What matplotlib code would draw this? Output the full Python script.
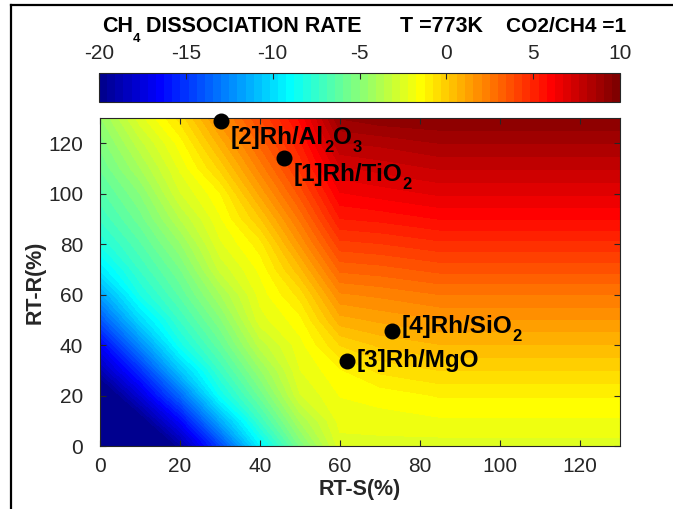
import re
import matplotlib
matplotlib.use("Agg")
import matplotlib.pyplot as plt
import numpy as np
from matplotlib.colors import ListedColormap, Normalize
from matplotlib.lines import Line2D
from matplotlib.transforms import offset_copy

plt.rcParams['font.family'] = ['Liberation Sans', 'DejaVu Sans']
plt.rcParams['axes.unicode_minus'] = False

# CH4 dissociation rate on an RT-S / RT-R grid
rt_s = [0, 10, 20, 30, 40, 50, 60, 70, 85, 130]
rt_r = [0, 10, 20, 30, 40, 50, 60, 70, 80, 90, 100, 110, 120, 130]
rate = [
    [-27.0, -23.3, -19.2, -14.6, -9.3, -5.4, -2.4, -2.4, -2.4, -2.4],
    [-24.1, -20.3, -16.5, -11.5, -7.3, -4.0, -2.0, -1.9, -1.8, -1.8],
    [-21.3, -17.7, -13.5, -8.7, -5.8, -2.7, -1.7, -1.55, -1.2, -1.2],
    [-18.8, -15.2, -10.7, -7.3, -4.6, -2.2, -1.3, -0.65, -0.3, -0.3],
    [-16.7, -12.5, -8.5, -6.1, -3.4, -1.9, -0.3, 0.25, 0.6, 0.6],
    [-14.1, -10.1, -7.3, -5.1, -2.4, -1.4, 0.9, 1.2, 1.55, 1.55],
    [-11.8, -8.3, -6.3, -4.1, -2.0, -0.6, 1.95, 2.15, 2.5, 2.5],
    [-9.6, -7.3, -5.5, -3.0, -1.6, 0.5, 3.1, 3.25, 3.6, 3.6],
    [-8.2, -6.5, -4.6, -2.3, -1.0, 1.6, 4.2, 4.35, 4.7, 4.7],
    [-7.3, -5.7, -3.6, -1.8, 0.1, 2.6, 5.3, 5.45, 5.8, 5.8],
    [-6.6, -5.0, -2.7, -1.3, 1.2, 3.6, 6.2, 6.45, 6.8, 6.8],
    [-5.9, -4.1, -2.1, -0.2, 2.2, 4.5, 7.1, 7.35, 7.7, 7.7],
    [-5.3, -3.3, -1.5, 0.8, 3.1, 5.2, 8.1, 8.25, 8.6, 8.6],
    [-4.6, -2.4, -0.6, 1.8, 3.9, 5.9, 9.1, 9.4, 9.5, 9.5],
]

# catalysts ("_n" marks a subscript digit)
catalysts = ['[2]Rh/Al_2O_3', '[1]Rh/TiO_2', '[3]Rh/MgO', '[4]Rh/SiO_2']
cat_s = [30.3, 46.0, 61.8, 72.9]
cat_r = [129.0, 114.0, 33.7, 45.5]
label_offsets = [(7, -17), (7, -16), (7, -4.5), (7, -1.5)]

W, H = 673, 509
gray = '#262626'


def matlab_jet(m=64):
    n = int(np.ceil(m / 4))
    u = np.concatenate([np.arange(1, n + 1) / n, np.ones(n - 1),
                        np.arange(n, 0, -1) / n])
    g = int(np.ceil(n / 2)) - (m % 4 == 1) + np.arange(1, len(u) + 1)
    r = g + n
    b = g - n
    J = np.zeros((m, 3))
    J[r[r <= m] - 1, 0] = u[r <= m]
    J[g[g <= m] - 1, 1] = u[g <= m]
    J[b[b >= 1] - 1, 2] = u[b >= 1]
    return J


fig = plt.figure(figsize=(W / 100, H / 100), dpi=100)
renderer = fig.canvas.get_renderer()


def chem_text(trans, x, y, label, size, sub_scale, sub_drop, dx=0, dy=0,
              color='black'):
    # bold text with lowered, smaller digits after "_"
    pieces = re.split(r'_(\d)', label)
    acc = dx
    for i, piece in enumerate(pieces):
        if not piece:
            continue
        sub = i % 2 == 1
        tr = offset_copy(trans, fig=fig, x=acc,
                         y=dy - (sub_drop if sub else 0), units='points')
        t = fig.text(x, y, piece, transform=tr, ha='left', va='baseline',
                     fontsize=size * sub_scale if sub else size,
                     fontweight='bold', color=color, zorder=6)
        acc += t.get_window_extent(renderer).width * 72 / fig.dpi


ax = fig.add_axes([100 / W, (H - 446) / H, 520 / W, 328 / H])

cmap = ListedColormap(matlab_jet(64))
cmap = cmap.with_extremes(under=cmap(0), over=cmap(63))
levels = np.linspace(-20, 10, 65)
ax.contourf(rt_s, rt_r, rate, levels=levels, cmap=cmap, extend='both',
            antialiased=False)

ax.set_xlim(0, 130)
ax.set_ylim(0, 130)
ax.plot(cat_s, cat_r, 'o', color='black', ms=10.5, clip_on=False, zorder=5)
for name, s, r, (ox, oy) in zip(catalysts, cat_s, cat_r, label_offsets):
    chem_text(ax.transData, s, r, name, 17.5, 0.68, 5.8, dx=ox, dy=oy)

ax.set_xticks(np.arange(0, 121, 20))
ax.set_yticks(np.arange(0, 121, 20))
ax.tick_params(direction='in', length=4.5, width=0.8, colors=gray,
               labelsize=15, top=True, right=True)
ax.tick_params(axis='x', pad=8)
ax.tick_params(axis='y', pad=12)
for sp in ax.spines.values():
    sp.set_color(gray)
    sp.set_linewidth(0.8)
ax.set_xlabel('RT-S(%)', fontsize=15.5, fontweight='bold', color=gray)
ax.set_ylabel('RT-R(%)', fontsize=15.5, fontweight='bold', color=gray)
ax.xaxis.set_label_coords(0.5, -0.10)
ax.yaxis.set_label_coords(-0.105, 0.5)

# horizontal colour bar on top
cax = fig.add_axes([99 / W, (H - 102) / H, 521 / W, 29 / H])
sm = plt.cm.ScalarMappable(norm=Normalize(-20, 10), cmap=cmap)
cb = fig.colorbar(sm, cax=cax, orientation='horizontal',
                  ticks=np.arange(-20, 11, 5))
cax.xaxis.set_ticks_position('top')
cax.xaxis.set_label_position('top')
cax.tick_params(direction='in', length=4, width=0.8, colors=gray,
                labelsize=15, pad=7)
cb.outline.set_edgecolor(gray)
cb.outline.set_linewidth(0.8)

# title, in three runs
for txt, x0, fs in [('CH_4 DISSOCIATION RATE', 102, 15.5),
                    ('T =773K', 400, 15.5), ('CO2/CH4 =1', 506, 15)]:
    chem_text(fig.transFigure, x0 / W, 1 - 32 / H, txt, fs, 0.62, 7.2)

# outer frame
fig.add_artist(Line2D([10.5 / W, 10.5 / W], [0, 1 - 5 / H], color='black',
                      lw=1.6, transform=fig.transFigure))
fig.add_artist(Line2D([10.5 / W, 1], [1 - 5 / H, 1 - 5 / H], color='black',
                      lw=1.6, transform=fig.transFigure))

fig.savefig('out.png', dpi=100)
